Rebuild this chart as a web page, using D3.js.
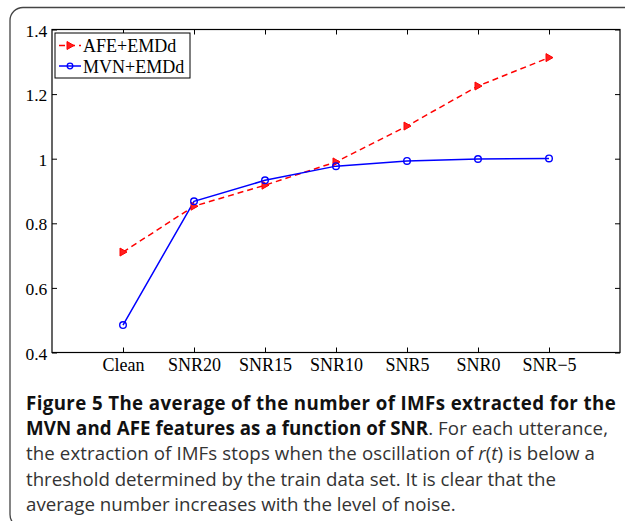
<!DOCTYPE html>
<html><head><meta charset="utf-8">
<script src="https://cdn.jsdelivr.net/npm/d3@7"></script>
<style>
html,body{margin:0;padding:0;background:#fff;}
svg{display:block;}
</style></head>
<body>
<svg id="chart" width="625" height="521"></svg>
<script>
const categories = ["Clean","SNR20","SNR15","SNR10","SNR5","SNR0","SNR\u22125"];
const afeValues = [0.711, 0.853, 0.918, 0.990, 1.101, 1.225, 1.313];
const mvnValues = [0.485, 0.868, 0.933, 0.977, 0.993, 0.999, 1.001];
const yTicks = [0.4, 0.6, 0.8, 1, 1.2, 1.4];
const seriesNames = ["AFE+EMDd", "MVN+EMDd"];

const svg = d3.select("#chart");
// outer rounded frame
svg.append("rect").attr("x",10).attr("y",7.5).attr("width",640).attr("height",520)
  .attr("rx",13).attr("fill","none").attr("stroke","#444").attr("stroke-width",1.3);

const L=52, R=620, T=29.5, B=352.5;
const x = d3.scaleLinear().domain([0,8]).range([L,R]);
const y = d3.scaleLinear().domain([0.4,1.4]).range([B,T]);

const serif = "'Liberation Serif','Times New Roman',serif";
const g = svg.append("g");

// frame of axes
g.append("rect").attr("x",L).attr("y",T).attr("width",R-L).attr("height",B-T)
  .attr("fill","none").attr("stroke","#000").attr("stroke-width",1.2);

const tickLen = 5;
const xAxisB = d3.axisBottom(x).tickValues(d3.range(1,8)).tickFormat(i=>categories[i-1]).tickSizeInner(-tickLen).tickSizeOuter(0).tickPadding(5.4);
const gb = g.append("g").attr("transform",`translate(0,${B})`).call(xAxisB);
const xAxisT = d3.axisTop(x).tickValues(d3.range(1,8)).tickFormat("").tickSizeInner(-tickLen).tickSizeOuter(0);
const gt = g.append("g").attr("transform",`translate(0,${T})`).call(xAxisT);
const yAxisL = d3.axisLeft(y).tickValues(yTicks).tickFormat(d=>d===1?"1":d3.format(".1f")(d)).tickSizeInner(-tickLen).tickSizeOuter(0).tickPadding(4.7);
const gl = g.append("g").attr("transform",`translate(${L},0)`).call(yAxisL);
const yAxisR = d3.axisRight(y).tickValues(yTicks).tickFormat("").tickSizeInner(-tickLen).tickSizeOuter(0);
const gr = g.append("g").attr("transform",`translate(${R},0)`).call(yAxisR);
[gb,gt,gl,gr].forEach(a=>{
  a.select(".domain").remove();
  a.selectAll(".tick line").attr("stroke","#000").attr("stroke-width",1);
  a.selectAll("text").attr("font-family",serif).attr("font-size","18px").attr("fill","#000");
});
gl.selectAll("text").attr("font-size","17.5px").attr("dy","0.38em");

// lines
const line = d3.line().x((d,i)=>x(i+1)).y(d=>y(d));
g.append("path").datum(afeValues).attr("d",line).attr("fill","none")
  .attr("stroke","#ff0000").attr("stroke-width",1.5).attr("stroke-dasharray","6,4");
g.append("path").datum(mvnValues).attr("d",line).attr("fill","none")
  .attr("stroke","#0000ff").attr("stroke-width",1.5);

const tri = (cx,cy)=>`M${cx-3},${cy-4}L${cx+4},${cy}L${cx-3},${cy+4}Z`;
g.selectAll(".afe").data(afeValues).enter().append("path")
  .attr("d",(d,i)=>tri(x(i+1),y(d))).attr("fill","#ff2020").attr("stroke","#ff0000").attr("stroke-width",1);
g.selectAll(".mvn").data(mvnValues).enter().append("circle")
  .attr("cx",(d,i)=>x(i+1)).attr("cy",d=>y(d)).attr("r",3.3)
  .attr("fill","none").attr("stroke","#0000ff").attr("stroke-width",1.4);

// legend
const lg = g.append("g");
lg.append("rect").attr("x",55).attr("y",33).attr("width",135).attr("height",45)
  .attr("fill","#fff").attr("stroke","#000").attr("stroke-width",1);
lg.append("line").attr("x1",59).attr("x2",81).attr("y1",45.5).attr("y2",45.5)
  .attr("stroke","#ff0000").attr("stroke-width",1.5).attr("stroke-dasharray","6,4");
lg.append("path").attr("d",tri(70,45.5)).attr("fill","#ff2020").attr("stroke","#ff0000");
lg.append("line").attr("x1",59).attr("x2",81).attr("y1",66).attr("y2",66)
  .attr("stroke","#0000ff").attr("stroke-width",1.5);
lg.append("circle").attr("cx",70).attr("cy",66).attr("r",2.8).attr("fill","none").attr("stroke","#0000ff").attr("stroke-width",1.3);
lg.selectAll("text.lt").data(seriesNames).enter().append("text")
  .attr("x",83).attr("y",(d,i)=>52.3+i*20.4).text(d=>d)
  .attr("font-family",serif).attr("font-size","18px").attr("fill","#000");

// caption
const sans = "'Open Sans','Noto Sans',sans-serif";
const cap = svg.append("g").attr("font-family",sans).attr("font-size","18.7px").attr("fill","#333");
const capLines = [
  [{t:"Figure 5 The average of the number of IMFs extracted for the",b:true}],
  [{t:"MVN and AFE features as a function of SNR",b:true},{t:". For each utterance,",b:false}],
  [{t:"the extraction of IMFs stops when the oscillation of ",b:false},{t:"r",i:true},{t:"(",b:false},{t:"t",i:true},{t:") is below a",b:false}],
  [{t:"threshold determined by the train data set. It is clear that the",b:false}],
  [{t:"average number increases with the level of noise.",b:false}]
];
const baselines = [409.5, 435, 460.3, 485.6, 510.8];
const lineWidths = [589.7, 582, 569, 530, null];
capLines.forEach((ln,k)=>{
  const t = cap.append("text").attr("x",26).attr("y",baselines[k]);
  if (lineWidths[k]) t.attr("textLength",lineWidths[k]).attr("lengthAdjust","spacing");
  ln.forEach(s=>{
    t.append("tspan").text(s.t).attr("font-weight",s.b?"bold":"normal")
      .attr("font-style",s.i?"italic":"normal").attr("fill",s.b?"#111":"#333");
  });
});
</script>
</body></html>
